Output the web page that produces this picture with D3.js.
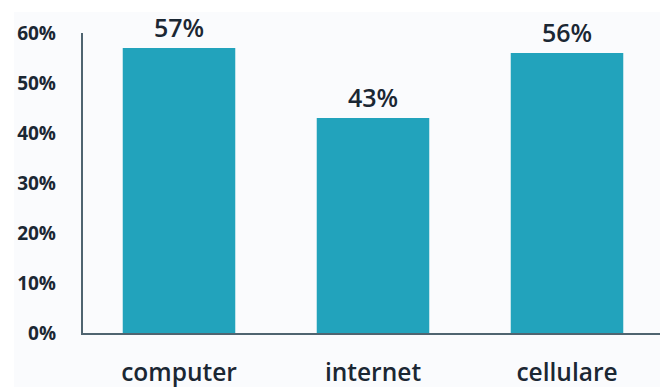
<!DOCTYPE html>
<html>
<head>
<meta charset="utf-8">
<script src="https://cdn.jsdelivr.net/npm/d3@7"></script>
<style>
  html, body { margin: 0; padding: 0; background: #ffffff; }
  svg { display: block; }
  text { font-family: "Open Sans", "Lato", sans-serif; }
</style>
</head>
<body>
<svg id="chart" width="660" height="387"></svg>
<script>
const categories = ["computer", "internet", "cellulare"];
const values = [57, 43, 56];
const yTicks = [0, 10, 20, 30, 40, 50, 60];

const svg = d3.select("#chart");
const W = 660, H = 387;

svg.append("rect")
  .attr("x", 14).attr("y", 12).attr("width", W - 14).attr("height", H - 12)
  .attr("fill", "#fafbfd");

const x = d3.scaleBand()
  .domain(categories)
  .range([82, 664])
  .paddingInner(0.42)
  .paddingOuter(0.21);

const y = d3.scaleLinear()
  .domain([0, 60])
  .range([333, 33]);

// bars
svg.append("g").selectAll("rect")
  .data(values)
  .join("rect")
  .attr("x", (d, i) => x(categories[i]))
  .attr("y", d => y(d))
  .attr("width", x.bandwidth())
  .attr("height", d => y(0) - y(d))
  .attr("fill", "#22a3bc");

// axes lines
svg.append("line")
  .attr("x1", 82).attr("x2", 82)
  .attr("y1", y(60)).attr("y2", y(0) + 1)
  .attr("stroke", "#4f6470").attr("stroke-width", 2);
svg.append("line")
  .attr("x1", 81).attr("x2", 660)
  .attr("y1", y(0) + 1).attr("y2", y(0) + 1)
  .attr("stroke", "#4f6470").attr("stroke-width", 2);

// y tick labels
const yAxis = d3.axisLeft(y).tickValues(yTicks).tickFormat(d => d + "%").tickSize(0).tickPadding(0);
const gy = svg.append("g").attr("transform", "translate(56,0)").call(yAxis);
gy.select(".domain").remove();
gy.selectAll("text")
  .attr("fill", "#1b2733")
  .style("font-family", "'Open Sans', sans-serif")
  .style("font-size", "19px")
  .style("font-weight", "700")
  .attr("dy", "0.36em");

// x category labels
const xAxis = d3.axisBottom(x).tickSize(0).tickPadding(0);
const gx = svg.append("g").attr("transform", "translate(0,381)").call(xAxis);
gx.select(".domain").remove();
gx.selectAll("text")
  .attr("dy", 0)
  .attr("fill", "#1b2733")
  .style("font-family", "'Open Sans', sans-serif")
  .style("font-size", "24.5px")
  .style("font-weight", "600");

// value labels
svg.append("g").selectAll("text")
  .data(values)
  .join("text")
  .attr("x", (d, i) => x(categories[i]) + x.bandwidth() / 2)
  .attr("y", d => y(d) - 11)
  .attr("text-anchor", "middle")
  .attr("fill", "#1b2733")
  .style("font-size", "25px")
  .style("font-weight", "600")
  .text(d => d + "%");
</script>
</body>
</html>
